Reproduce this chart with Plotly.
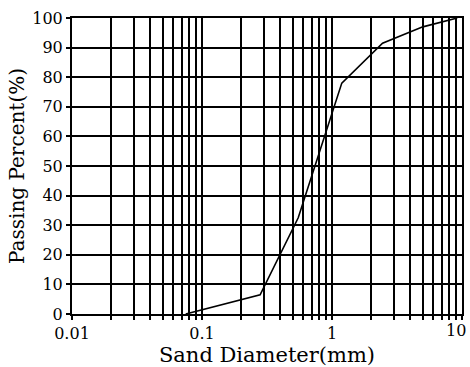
import plotly.graph_objects as go

diameter_mm = [0.075, 0.28, 0.55, 1.19, 2.45, 5.0, 9.2]
passing_pct = [0.0, 6.5, 32.5, 78.0, 91.5, 97.0, 100.0]

x_grid_vals = [m * 10 ** e for e in (-2, -1, 0) for m in range(1, 10)] + [10]
x_labels = {0.01: "0.01", 0.1: "0.1", 1: "1", 10: "10"}
y_tick_vals = list(range(0, 101, 10))

FONT = "DejaVu Serif"

# last label (10) is drawn as an annotation so it stays inside the page
x_tick_text = [x_labels.get(v, "") if v != 10 else "" for v in x_grid_vals]

fig = go.Figure()
fig.add_trace(go.Scatter(x=diameter_mm, y=passing_pct, mode="lines",
                         line=dict(color="black", width=1.6), showlegend=False))

fig.update_layout(
    width=470, height=367,
    margin=dict(l=72, r=8, t=18, b=53),
    paper_bgcolor="white", plot_bgcolor="white",
    font=dict(family=FONT, color="black", size=16),
)
fig.add_annotation(x=1, xref="x", y=0, yref="paper", text=x_labels[10],
                   showarrow=False, xanchor="right", yanchor="top",
                   xshift=6, yshift=-5, font=dict(size=16, family=FONT))
fig.update_xaxes(
    type="log", range=[-2, 1.0004],
    tickvals=x_grid_vals, ticktext=x_tick_text,
    showgrid=True, gridcolor="black", gridwidth=1.6,
    ticks="outside", ticklen=4, tickcolor="black", tickwidth=1.5,
    showline=True, linecolor="black", linewidth=2, mirror=True,
    tickfont=dict(size=16, family=FONT),
    title=dict(text="Sand Diameter(mm)", font=dict(size=21, family=FONT), standoff=6),
    zeroline=False, automargin=False,
)
fig.update_yaxes(
    range=[0, 100], tickvals=y_tick_vals,
    showgrid=True, gridcolor="black", gridwidth=1.6,
    ticks="outside", ticklen=4, tickcolor="black", tickwidth=1.5,
    showline=True, linecolor="black", linewidth=2, mirror=True,
    tickfont=dict(size=16, family=FONT),
    title=dict(text="Passing Percent(%)", font=dict(size=20, family=FONT), standoff=2),
    zeroline=False, automargin=False,
)

fig.write_html("out.html")
